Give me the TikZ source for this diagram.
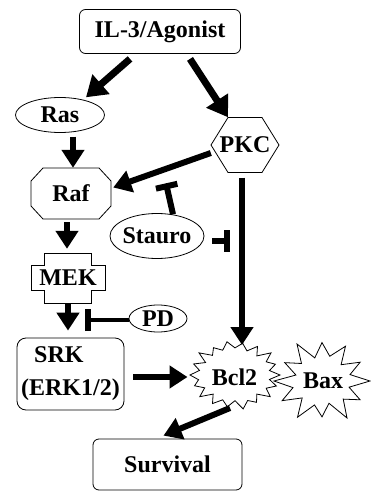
\documentclass[tikz,border=0pt]{standalone}
\usepackage{fontspec}
\setmainfont{Liberation Serif}
\usetikzlibrary{arrows.meta,calc}
\begin{document}
\begin{tikzpicture}[x=1pt,y=-1pt,
  lbl/.style={font=\fontsize{24}{33}\selectfont\bfseries, inner sep=0pt},
  shp/.style={line width=0.8pt},
  arr/.style={line width=6pt, -{Triangle[width=22pt,length=18pt]}},
  bigarr/.style={line width=7pt, -{Triangle[width=25pt,length=20pt]}},
  inh/.style={line width=6pt, -{Bar[width=22pt]}}]
\useasboundingbox (0,0) rectangle (371,492);
% nodes
\node[lbl, draw, shp, rounded corners=6pt, minimum width=161pt, minimum height=44pt] (top) at (160,31.5) {IL-3/Agonist};
\node[lbl, minimum width=89pt, minimum height=35pt] (ras) at (60,115) {Ras};
\node[lbl, minimum width=68pt, minimum height=55pt] (pkc) at (245,145) {PKC};
\node[lbl, minimum width=80pt, minimum height=51pt] (raf) at (71,193.5) {Raf};
\node[lbl, minimum width=94pt, minimum height=45pt] (stauro) at (157,236) {Stauro};
\node[lbl, minimum width=74pt, minimum height=50pt] (mek) at (68,278) {MEK};
\node[lbl, minimum width=58pt, minimum height=27pt] (pd) at (158,318.5) {PD};
\node[lbl, draw, shp, rounded corners=9pt, minimum width=107pt, minimum height=72pt, align=left] (srk) at (70.5,374) {\hspace*{13pt}SRK\\(ERK1/2)};
\node[lbl, minimum width=90pt, minimum height=66pt] (bcl) at (234.5,377) {Bcl2};
\node[lbl, minimum width=96pt, minimum height=82pt] (bax) at (323,381) {Bax};
\node[lbl, draw, shp, rounded corners=6pt, minimum width=149pt, minimum height=51pt] (surv) at (167.5,464.5) {Survival};
% shapes
\draw[shp] (ras.center) ellipse [x radius=44.5pt, y radius=17.5pt];
\draw[shp] (stauro.center) ellipse [x radius=47pt, y radius=22.5pt];
\draw[shp] (pd.center) ellipse [x radius=29pt, y radius=13.5pt];
\draw[shp, shift={(pkc.center)}] (-34,0) -- (-17,-27.5) -- (17,-27.5) -- (34,0) -- (17,27.5) -- (-17,27.5) -- cycle;
\draw[shp, shift={(raf.center)}] (-40,-12.5) -- (-28,-25.5) -- (28,-25.5) -- (40,-12.5) -- (40,12.5) -- (28,25.5) -- (-28,25.5) -- (-40,12.5) -- cycle;
\draw[shp, shift={(mek.center)}] (-24,-25) -- (23,-25) -- (23,-13) -- (37,-13) -- (37,12) -- (23,12) -- (23,25) -- (-24,25) -- (-24,12) -- (-37,12) -- (-37,-13) -- (-24,-13) -- cycle;
\begin{scope}[shift={([xshift=0.5pt,yshift=2pt]bcl.center)}, yscale=0.733]
\draw[shp] (0:45) -- (10:35) -- (20:44) -- (30:36) -- (40:46) -- (50:34) -- (60:43) -- (70:37) -- (80:47) -- (90:35) -- (100:44) -- (110:36) -- (120:45) -- (130:34) -- (140:46) -- (150:35) -- (160:43) -- (170:37) -- (180:45) -- (190:36) -- (200:44) -- (210:34) -- (220:47) -- (230:35) -- (240:43) -- (250:36) -- (260:46) -- (270:37) -- (280:44) -- (290:35) -- (300:45) -- (310:34) -- (320:47) -- (330:36) -- (340:43) -- (350:35) -- cycle;
\end{scope}
\begin{scope}[shift={([xshift=-1pt]bax.center)}, yscale=0.854]
\draw[shp] (0:48) -- (15:28) -- (30:44) -- (45:30) -- (60:50) -- (75:27) -- (90:42) -- (105:29) -- (120:49) -- (135:28) -- (150:46) -- (165:30) -- (180:48) -- (195:27) -- (210:43) -- (225:29) -- (240:50) -- (255:28) -- (270:45) -- (285:30) -- (300:47) -- (315:27) -- (330:44) -- (345:29) -- cycle;
\end{scope}
% connectors
\draw[bigarr] ([xshift=-30pt,yshift=-5pt]top.south) -- ([xshift=26pt]ras.north);
\draw[bigarr] ([xshift=30pt,yshift=-5pt]top.south) -- ([xshift=-17pt]pkc.north);
\draw[arr] ([xshift=13pt,yshift=-4pt]ras.south) -- ([xshift=2pt]raf.north);
\draw[arr] ([yshift=-8pt]pkc.west) -- ([xshift=2pt,yshift=6pt]raf.east);
\draw[inh] ([xshift=16pt,yshift=-1pt]stauro.north) -- ([xshift=9pt,yshift=30pt]stauro.north);
\draw[inh] ([xshift=8pt,yshift=-5pt]stauro.east) -- ([xshift=26pt,yshift=-5pt]stauro.east);
\draw[arr] ([xshift=-3pt,yshift=-5pt]pkc.south) -- ([xshift=7.5pt,yshift=32pt]bcl.center);
\draw[arr] ([xshift=-4pt,yshift=-3pt]raf.south) -- ([xshift=-1pt,yshift=4pt]mek.north);
\draw[arr] (mek.south) -- ([xshift=-2.5pt,yshift=7pt]srk.north);
\draw[line width=4pt, -{Bar[width=22pt,line width=6pt]}] ([yshift=-1.5pt]pd.west) -- ([xshift=-44pt,yshift=-1.5pt]pd.west);
\draw[arr] ([xshift=9pt,yshift=-3pt]srk.east) -- ([xshift=-47pt]bcl.center);
\draw[arr] ([xshift=-4.5pt,yshift=-31pt]bcl.center) -- ([xshift=-4pt,yshift=3pt]surv.north);
\end{tikzpicture}
\end{document}
